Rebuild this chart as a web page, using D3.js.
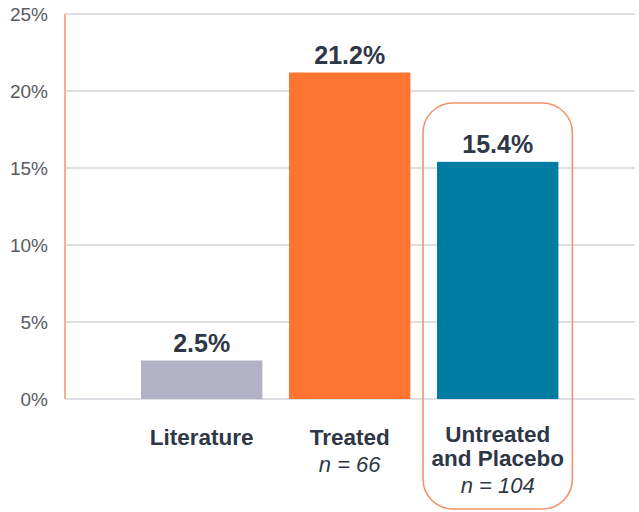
<!DOCTYPE html>
<html>
<head>
<meta charset="utf-8">
<script src="https://cdn.jsdelivr.net/npm/d3@7"></script>
<style>
  body { margin: 0; background: #fff; }
  text { font-family: "Liberation Sans", Arial, sans-serif; }
</style>
</head>
<body>
<svg id="chart" width="639" height="512"></svg>
<script>
// data
var categories = ["Literature", "Treated", "Untreated and Placebo"];
var values = [2.5, 21.2, 15.4];
var labelLines = [["Literature"], ["Treated"], ["Untreated", "and Placebo"]];
var nLabels = ["", "n = 66", "n = 104"];
var yTicks = [0, 5, 10, 15, 20, 25];

var colors = ["#b2b1c5", "#ff7431", "#007ba2"];

var svg = d3.select("#chart");

var plotLeft = 65, plotRight = 635, plotTop = 14, plotBottom = 399;

var y = d3.scaleLinear().domain([0, 25]).range([plotBottom, plotTop]);
var x = d3.scaleBand().domain(categories)
  .range([127.7, 571.7])
  .paddingInner(0.18)
  .paddingOuter(0.09);

// gridlines
svg.append("g").selectAll("line")
  .data(yTicks)
  .enter().append("line")
  .attr("x1", plotLeft).attr("x2", plotRight)
  .attr("y1", function(d) { return y(d); })
  .attr("y2", function(d) { return y(d); })
  .attr("stroke", "#d3d3dc")
  .attr("stroke-width", 1.5);

// y axis
var yAxis = d3.axisLeft(y).tickValues(yTicks)
  .tickFormat(function(d) { return d + "%"; })
  .tickSize(0).tickPadding(17);
var gy = svg.append("g").attr("transform", "translate(" + plotLeft + ",0)").call(yAxis);
gy.select(".domain").remove();
gy.selectAll("text")
  .attr("fill", "#595a62")
  .style("font-family", "'Liberation Sans', Arial, sans-serif")
  .style("font-size", "19px");
svg.append("line")
  .attr("x1", plotLeft).attr("x2", plotLeft)
  .attr("y1", plotTop).attr("y2", plotBottom)
  .attr("stroke", "#f6b08c")
  .attr("stroke-width", 2);

// highlight box
var hx = x(categories[2]);
svg.append("rect")
  .attr("x", hx - 14).attr("y", 103)
  .attr("width", x.bandwidth() + 28).attr("height", 406)
  .attr("rx", 30).attr("ry", 30)
  .attr("fill", "none")
  .attr("stroke", "#f3936a")
  .attr("stroke-width", 1.6);

// bars
svg.append("g").selectAll("rect")
  .data(values)
  .enter().append("rect")
  .attr("x", function(d, i) { return x(categories[i]); })
  .attr("y", function(d) { return y(d); })
  .attr("width", x.bandwidth())
  .attr("height", function(d) { return plotBottom - y(d); })
  .attr("fill", function(d, i) { return colors[i]; });

// value labels
svg.append("g").selectAll("text")
  .data(values)
  .enter().append("text")
  .attr("x", function(d, i) { return x(categories[i]) + x.bandwidth() / 2; })
  .attr("y", function(d) { return y(d) - 9; })
  .attr("text-anchor", "middle")
  .attr("fill", "#2e3746")
  .style("font-size", "25px")
  .style("font-weight", "bold")
  .text(function(d) { return d.toFixed(1) + "%"; });

// category labels
categories.forEach(function(c, i) {
  var cx = x(c) + x.bandwidth() / 2;
  var lines = labelLines[i];
  var startY = lines.length > 1 ? 442 : 445;
  lines.forEach(function(l, j) {
    svg.append("text")
      .attr("x", cx).attr("y", startY + j * 24)
      .attr("text-anchor", "middle")
      .attr("fill", "#2e3746")
      .style("font-size", "22.5px")
      .style("font-weight", "bold")
      .text(l);
  });
  if (nLabels[i]) {
    svg.append("text")
      .attr("x", cx).attr("y", startY + lines.length * 24 + 3)
      .attr("text-anchor", "middle")
      .attr("fill", "#2e3746")
      .style("font-size", "22px")
      .style("font-style", "italic")
      .text(nLabels[i]);
  }
});
</script>
</body>
</html>
